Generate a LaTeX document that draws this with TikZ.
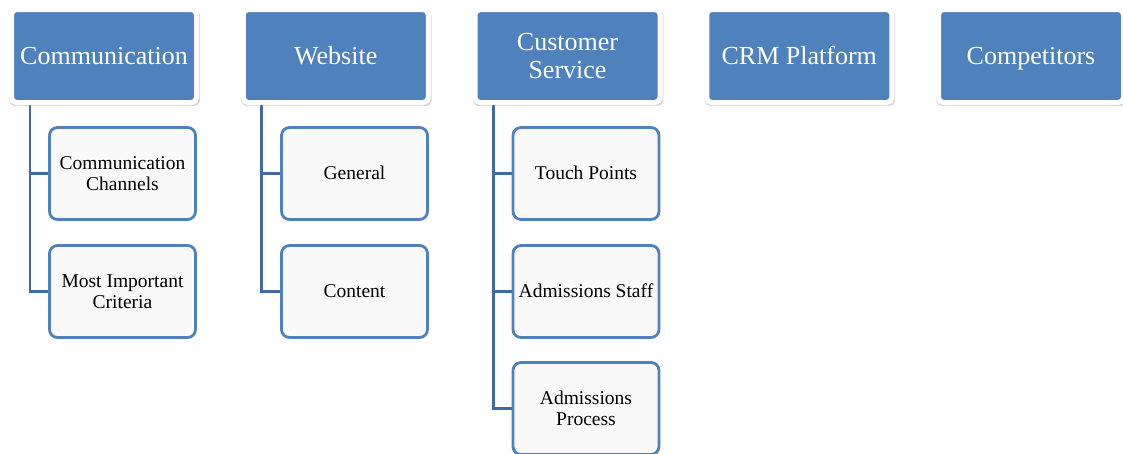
\documentclass[tikz,border=0pt]{standalone}
\usepackage{fontspec}
\setmainfont{Liberation Serif}
\usetikzlibrary{shadows}
\definecolor{topblue}{RGB}{79,129,189}
\definecolor{linkblue}{RGB}{66,106,162}
\definecolor{childfill}{RGB}{249,249,250}
\tikzset{
  topbox/.style={rectangle, rounded corners=5pt, fill=topblue, draw=white, line width=5pt,
    minimum width=185pt, minimum height=93pt, inner sep=0pt, align=center, text=white,
    font=\fontsize{26}{28}\selectfont,
    general shadow={fill=black!55, opacity=0.28, shadow scale=1.03, shadow xshift=0.6pt, shadow yshift=-2pt}},
  oneline/.style={text height=18pt, text depth=2pt},
  childbox/.style={rectangle, rounded corners=8pt, fill=childfill, draw=topblue, line width=2.8pt,
    minimum width=146pt, minimum height=92pt, inner sep=0pt, align=center, text=black,
    font=\fontsize{19.5}{20.5}\selectfont},
  childone/.style={text height=13.5pt, text depth=2.5pt},
  conn/.style={draw=linkblue, line width=2.6pt}
}
\begin{document}
\begin{tikzpicture}[x=1pt,y=-1pt]
\useasboundingbox (0,0) rectangle (1123,453);
\fill[white] (0,0) rectangle (1123,453);
% children
\node[childbox] (c1) at (122.5,173.5) {Communication\\Channels};
\node[childbox] (c2) at (122.5,291.5) {Most Important\\Criteria};
\node[childbox, childone] (w1) at (354.5,173.5) {General};
\node[childbox, childone] (w2) at (354.5,291.5) {Content};
\node[childbox, childone] (s1) at (586,173.5) {Touch Points};
\node[childbox, childone] (s2) at (586,291.5) {Admissions Staff};
\node[childbox] (s3) at (586,408.5) {Admissions\\Process};
% anchor points below the parents
\coordinate (ca) at (30,96);
\coordinate (wa) at (261.75,96);
\coordinate (sa) at (493.5,96);
% connectors
\draw[conn] (ca) |- (c1.west);
\draw[conn] (ca) |- (c2.west);
\draw[conn] (wa) |- (w1.west);
\draw[conn] (wa) |- (w2.west);
\draw[conn] (sa) |- (s1.west);
\draw[conn] (sa) |- (s2.west);
\draw[conn] (sa) |- (s3.west);
% top boxes
\node[topbox, oneline] (comm) at (104,56) {Communication};
\node[topbox, oneline] (web) at (335.75,56) {Website};
\node[topbox] (cs) at (567.5,56) {Customer\\Service};
\node[topbox, oneline] (crm) at (799.25,56) {CRM Platform};
\node[topbox, oneline] (comp) at (1031,56) {Competitors};
\end{tikzpicture}
\end{document}
